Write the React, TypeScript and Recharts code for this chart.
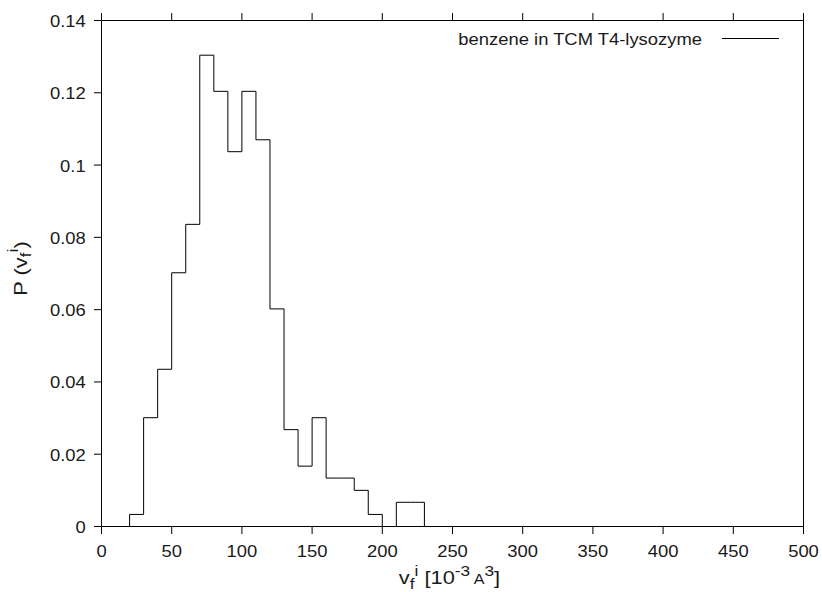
import React from 'react';
import { LineChart, Line, XAxis, YAxis, Legend, Label } from 'recharts';

// bin left edges [10^-3 A^3]
const binStart = [
  0, 10, 20, 30, 40, 50, 60, 70, 80, 90,
  100, 110, 120, 130, 140, 150, 160, 170, 180, 190,
  200, 210, 220, 230, 240, 250, 260, 270, 280, 290,
  300, 310, 320, 330, 340, 350, 360, 370, 380, 390,
  400, 410, 420, 430, 440, 450, 460, 470, 480, 490,
  500,
];

// P(v_f^i) for each bin
const probability = [
  0, 0, 0.00334, 0.0301, 0.0435, 0.0702, 0.0836, 0.1304, 0.1204, 0.1037,
  0.1204, 0.107, 0.0602, 0.0268, 0.0167, 0.0301, 0.0134, 0.0134, 0.01, 0.00334,
  0, 0.0067, 0.0067, 0, 0, 0, 0, 0, 0, 0,
  0, 0, 0, 0, 0, 0, 0, 0, 0, 0,
  0, 0, 0, 0, 0, 0, 0, 0, 0, 0,
  0,
];

const xTicks = [0, 50, 100, 150, 200, 250, 300, 350, 400, 450, 500];
const yTicks = [0, 0.02, 0.04, 0.06, 0.08, 0.1, 0.12, 0.14];
const seriesName = 'benzene in TCM T4-lysozyme';

const data = binStart.map((x, i) => ({ x, p: probability[i] }));

const FONT = '"Liberation Sans", Arial, Helvetica, sans-serif';
const FS = 16;
const LFS = 19;
const LSUB = 15;
const SX = 1.15;
const INK = '#1a1a1a';

const XTick = (props: any) => {
  const { x, y, payload } = props;
  return (
    <text
      transform={`translate(${x},${y}) scale(${SX},1)`}
      textAnchor="middle"
      dy={11.6}
      fontFamily={FONT}
      fontSize={FS}
      fill={INK}
    >
      {String(payload.value)}
    </text>
  );
};

const YTick = (props: any) => {
  const { x, y, payload } = props;
  return (
    <text
      transform={`translate(${x},${y}) scale(${SX},1)`}
      textAnchor="end"
      dy={6.5}
      fontFamily={FONT}
      fontSize={FS}
      fill={INK}
    >
      {String(payload.value)}
    </text>
  );
};

const XLabelContent = (props: any) => {
  const vb = props.viewBox || { x: 101.5, y: 526.5, width: 702, height: 65.5 };
  const cx = vb.x + vb.width / 2 - 3;
  const by = vb.y + 57.5;
  return (
    <text
      transform={`translate(${cx},${by}) scale(${SX},1)`}
      textAnchor="middle"
      fontFamily={FONT}
      fontSize={LFS}
      fill={INK}
    >
      <tspan>v</tspan>
      <tspan fontSize={LSUB} dy={4.5}>f</tspan>
      <tspan fontSize={LSUB} dy={-13}>i</tspan>
      <tspan dy={8.5}> [10</tspan>
      <tspan fontSize={LSUB} dy={-8.5}>-3</tspan>
      <tspan fontSize={14} dy={8.5}> A</tspan>
      <tspan fontSize={LSUB} dy={-8.5}>3</tspan>
      <tspan dy={8.5}>]</tspan>
    </text>
  );
};

const YLabelContent = (props: any) => {
  const vb = props.viewBox || { x: 0, y: 20.5, width: 101.5, height: 506 };
  const cx = vb.x + 26.5;
  const cy = vb.y + vb.height / 2 - 5;
  return (
    <text
      transform={`translate(${cx},${cy}) rotate(-90) scale(${SX},1)`}
      textAnchor="middle"
      fontFamily={FONT}
      fontSize={LFS}
      fill={INK}
    >
      <tspan>P (v</tspan>
      <tspan fontSize={LSUB} dy={4.5}>f</tspan>
      <tspan fontSize={LSUB} dy={-13}>i</tspan>
      <tspan dy={8.5}>)</tspan>
    </text>
  );
};

const renderLegend = (props: any) => {
  const name = props && props.payload && props.payload[0] ? props.payload[0].value : seriesName;
  return (
    <svg width={822} height={60} style={{ display: 'block' }}>
      <text
        transform={`translate(702,45) scale(${SX},1)`}
        textAnchor="end"
        fontFamily={FONT}
        fontSize={FS}
        fill={INK}
      >
        {name}
      </text>
      <line x1={722} x2={779} y1={38.5} y2={38.5} stroke="#000" strokeWidth={1} />
    </svg>
  );
};

export default function App() {
  return (
    <div style={{ position: 'absolute', left: 0, top: 0, width: 822, height: 592, background: '#fff' }}>
      <LineChart
        width={822}
        height={592}
        data={data}
        margin={{ top: 0, right: 0, bottom: 0, left: 0 }}
        style={{ fontFamily: FONT }}
      >
        <XAxis
          xAxisId="bottom"
          dataKey="x"
          type="number"
          domain={[0, 500]}
          ticks={xTicks}
          orientation="bottom"
          height={65.5}
          stroke="#000"
          tickSize={7.5}
          tickMargin={11}
          tick={XTick}
          interval={0}
        >
          <Label content={XLabelContent} />
        </XAxis>
        <XAxis
          xAxisId="top"
          dataKey="x"
          type="number"
          domain={[0, 500]}
          ticks={xTicks}
          orientation="top"
          height={20.5}
          stroke="#000"
          tickSize={7.5}
          tickFormatter={() => ''}
          interval={0}
        />
        <YAxis
          yAxisId="left"
          type="number"
          domain={[0, 0.14]}
          ticks={yTicks}
          orientation="left"
          width={101.5}
          stroke="#000"
          tickSize={7.5}
          tickMargin={8.3}
          tick={YTick}
          interval={0}
        >
          <Label content={YLabelContent} />
        </YAxis>
        <YAxis
          yAxisId="right"
          type="number"
          domain={[0, 0.14]}
          ticks={yTicks}
          orientation="right"
          width={18.5}
          stroke="#000"
          tickSize={7.5}
          tickFormatter={() => ''}
          interval={0}
        />
        <Legend
          layout="horizontal"
          verticalAlign="middle"
          align="center"
          content={renderLegend}
          wrapperStyle={{ position: 'absolute', left: 0, top: 0, width: 822, height: 60 }}
        />
        <Line
          xAxisId="bottom"
          yAxisId="left"
          name={seriesName}
          dataKey="p"
          type="stepAfter"
          stroke="#000"
          strokeWidth={1}
          dot={false}
          activeDot={false}
          isAnimationActive={false}
        />
      </LineChart>
    </div>
  );
}
